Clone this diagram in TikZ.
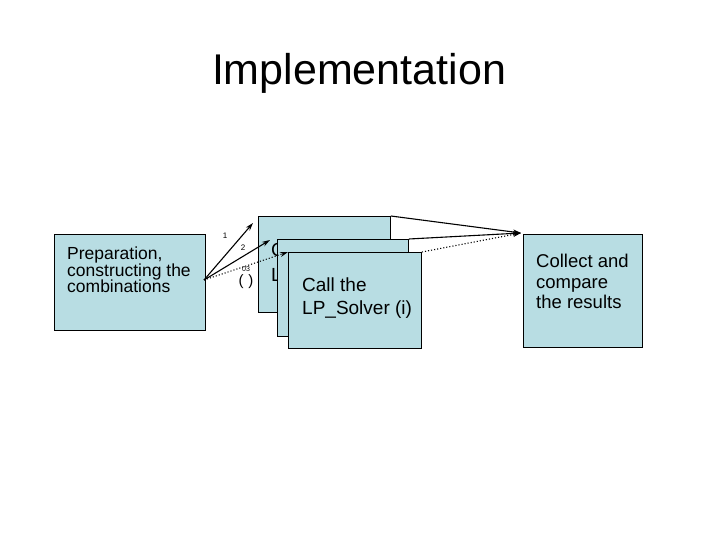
\documentclass[tikz,border=0pt]{standalone}
\usepackage{fontspec}
\setmainfont{Liberation Sans}
\usetikzlibrary{arrows.meta}
\definecolor{boxfill}{RGB}{184,221,227}
\tikzset{
  box/.style={draw=black, fill=boxfill, line width=0.9pt, anchor=north west, inner sep=0pt},
  boxtext/.style={anchor=north west, inner sep=0pt, align=left},
  link/.style={line width=1.1pt, -{Stealth[length=8pt,width=5pt]}},
  numlabel/.style={font=\fontsize{8}{8}\selectfont, inner sep=0pt}
}
\begin{document}
\begin{tikzpicture}[x=1pt, y=-1pt]
\useasboundingbox (0,0) rectangle (720,540);
% title
\node[anchor=north, inner sep=0pt, font=\fontsize{43}{43}\selectfont] (title) at (359,53) {Implementation};
% left and right boxes
\node[box, minimum width=151pt, minimum height=96pt] (prep) at (54,234) {};
\node[boxtext, font=\fontsize{17.5}{16.5}\selectfont] (preptext) at (67,247) {Preparation,\\constructing the\\combinations};
\node[box, minimum width=119pt, minimum height=113pt] (collect) at (523,234) {};
\node[boxtext, font=\fontsize{18.5}{20.5}\selectfont] (collecttext) at (536,254) {Collect and\\compare\\the results};
% stacked solver boxes, only the front one can be read
\node[box, minimum width=132pt, minimum height=96pt] (call1) at (258,216) {};
\begin{scope}
  \clip (258,216) rectangle (277,312);
  \node[boxtext, font=\fontsize{19}{25}\selectfont] (calltext1) at (271,243) {C\\L};
\end{scope}
\node[box, minimum width=131pt, minimum height=97pt] (call2) at (277,239) {};
\node[box, minimum width=133pt, minimum height=96pt] (call3) at (288,252) {};
\node[boxtext, font=\fontsize{19}{23}\selectfont] (calltext3) at (302,278) {Call the\\LP\_Solver (i)};
% arrow ends on the left
\coordinate (split) at (204,280);
\coordinate (end1) at (253,223);
\coordinate (end2) at (270,240);
\coordinate (join) at (521,233);
\draw[link] (split) -- (end1);
\draw[link] (split) -- (end2);
\draw[link, dotted] (split) -- (call3.north west);
\node[numlabel] (lab1) at (225,236) {1};
\node[numlabel] (lab2) at (243,248) {2};
\node[numlabel, font=\fontsize{7}{7}\selectfont] (lab3) at (246,269) {03};
\node[inner sep=0pt, font=\fontsize{15}{15}\selectfont] (lab3b) at (246,282) {(\hspace{5pt})};
% arrows to the result box
\draw[link] (call1.north east) -- (join);
\draw[link] (call2.north east) -- (join);
\draw[link, dotted] (call3.north east) -- (join);
\end{tikzpicture}
\end{document}
